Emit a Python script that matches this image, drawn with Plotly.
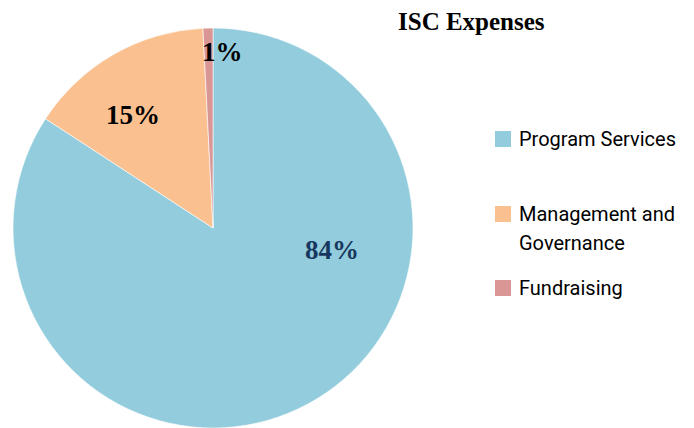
import plotly.graph_objects as go

W, H = 694, 428

categories = ["Program Services", "Management and<br>Governance", "Fundraising"]
values = [84.2, 15.0, 0.8]
colors = ["#93CDDD", "#FAC090", "#D99694"]
label_colors = ["#17375E", "#000000", "#000000"]
title_text = "ISC Expenses"

fig = go.Figure()
fig.add_trace(go.Pie(
    labels=categories,
    values=values,
    sort=False,
    direction="clockwise",
    rotation=0,
    marker=dict(colors=colors, line=dict(color="white", width=0.6)),
    textinfo="none",
    showlegend=False,
    domain=dict(x=[12 / W, 414 / W], y=[0, 400 / H]),
))

total = sum(values)
# percentage label positions (pixels)
label_pos = [(332, 250), (133, 115), (222, 52)]
serif = "Liberation Serif, Times New Roman, serif"
anns = []
for v, c, (px, py) in zip(values, label_colors, label_pos):
    anns.append(dict(
        x=px / W, y=1 - py / H, xref="paper", yref="paper",
        text=f"<b>{round(v / total * 100)}%</b>", showarrow=False,
        xanchor="center", yanchor="middle",
        font=dict(family=serif, size=27, color=c),
    ))

# title
anns.append(dict(
    x=471 / W, y=1 - 22 / H, xref="paper", yref="paper",
    text=f"<b>{title_text}</b>", showarrow=False,
    xanchor="center", yanchor="middle",
    font=dict(family=serif, size=25, color="#000000"),
))

# custom legend
legend_rows = [[139], [214, 243], [288]]
shapes = []
sans = "Roboto, Liberation Sans, sans-serif"
for cat, col, rows in zip(categories, colors, legend_rows):
    y0 = rows[0]
    shapes.append(dict(
        type="rect", xref="paper", yref="paper",
        x0=495 / W, x1=511 / W, y0=1 - (y0 - 8) / H, y1=1 - (y0 + 8) / H,
        fillcolor=col, line=dict(width=0),
    ))
    for line, ypx in zip(cat.split("<br>"), rows):
        anns.append(dict(
            x=517 / W, y=1 - ypx / H, xref="paper", yref="paper",
            text=line, showarrow=False, xanchor="left", yanchor="middle",
            font=dict(family=sans, size=20, color="#000000"),
        ))

fig.update_layout(
    width=W, height=H,
    margin=dict(l=0, r=0, t=0, b=0),
    paper_bgcolor="white", plot_bgcolor="white",
    annotations=anns, shapes=shapes,
)

fig.write_html("out.html", config={"displayModeBar": False},
               post_script="document.body.style.margin='0';")
